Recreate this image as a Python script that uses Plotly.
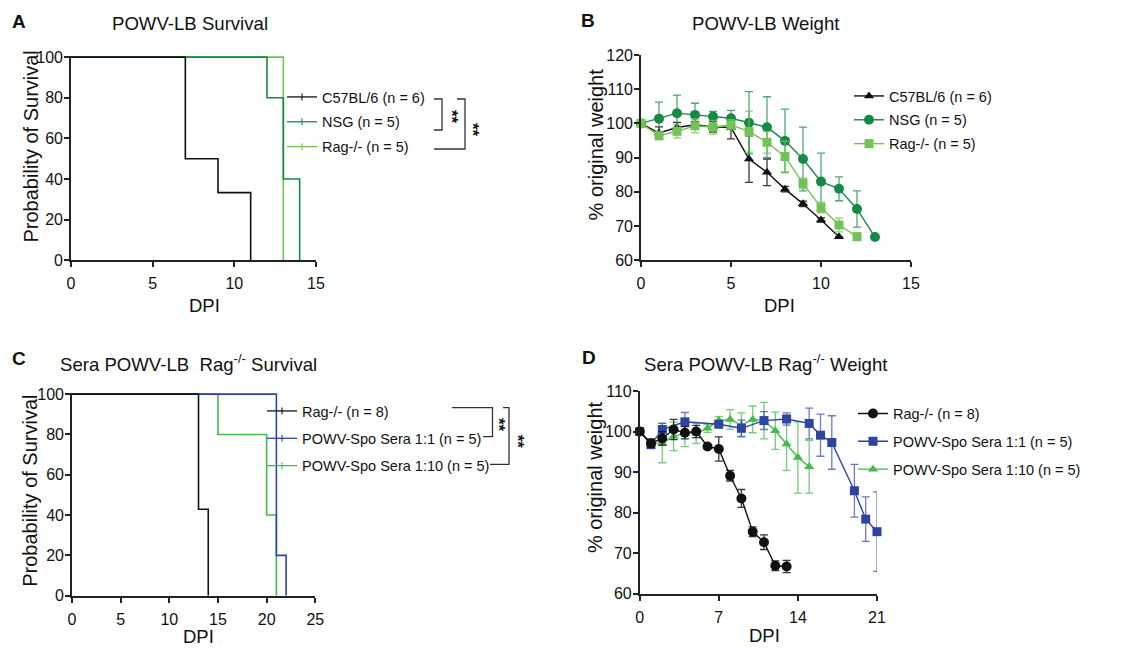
import plotly.graph_objects as go

W, H = 1141, 648
FONT = "Liberation Sans, Arial, sans-serif"

# ---------------- Data ----------------
# Panel A: POWV-LB survival (step curves)
a_c57_t = [0, 7, 9, 11]
a_c57_s = [100, 50, 33.3, 0]
a_nsg_t = [0, 12, 13, 14]
a_nsg_s = [100, 80, 40, 0]
a_rag_t = [0, 13]
a_rag_s = [100, 0]

# Panel B: POWV-LB weight
b_c57_d = [0, 1, 2, 3, 4, 5, 6, 7, 8, 9, 10, 11]
b_c57_w = [100, 97.2, 98.8, 99.6, 99.0, 98.8, 89.6, 85.7, 80.8, 76.5, 71.8, 66.9]
b_c57_e = [0, 1.8, 1.5, 1.0, 1.5, 3.3, 6.8, 3.9, 0.8, 0.8, 0.6, 0]
b_nsg_d = [0, 1, 2, 3, 4, 5, 6, 7, 8, 9, 10, 11, 12, 13]
b_nsg_w = [100, 101.4, 103.0, 102.5, 102.0, 101.5, 100.2, 98.9, 94.9, 89.6, 83.0, 80.9, 75.0, 66.8]
b_nsg_e = [0, 4.8, 5.3, 3.4, 1.5, 2.3, 9.1, 8.9, 9.3, 9.3, 8.3, 3.5, 5.3, 0]
b_rag_d = [0, 1, 2, 3, 4, 5, 6, 7, 8, 9, 10, 11, 12]
b_rag_w = [100, 96.4, 97.7, 99.3, 98.9, 99.6, 97.6, 94.5, 90.3, 82.5, 75.4, 70.3, 66.9]
b_rag_e = [0, 1.1, 2.0, 2.0, 2.0, 1.5, 6.0, 3.2, 4.5, 1.5, 1.5, 2.0, 1.0]

# Panel C: Sera POWV-LB Rag-/- survival
c_rag_t = [0, 13, 14]
c_rag_s = [100, 42.9, 0]
c_s11_t = [0, 21, 22]
c_s11_s = [100, 20, 0]
c_s110_t = [0, 15, 20, 21]
c_s110_s = [100, 80, 40, 0]

# Panel D: Sera POWV-LB Rag-/- weight
d_rag_d = [0, 1, 2, 3, 4, 5, 6, 7, 8, 9, 10, 11, 12, 13]
d_rag_w = [100, 97.1, 98.3, 100.5, 99.7, 100, 96.3, 95.7, 89.1, 83.5, 75.3, 72.7, 66.9, 66.7]
d_rag_e = [0.5, 1.0, 1.7, 2.5, 1.5, 1.5, 0.5, 3.0, 1.3, 2.2, 1.2, 1.8, 1.2, 1.5]
d_s11_d = [0, 1, 2, 4, 7, 9, 11, 13, 15, 16, 17, 19, 20, 21]
d_s11_w = [100, 96.8, 100.5, 102.4, 101.8, 100.8, 102.7, 103.1, 102.0, 99.1, 97.3, 85.4, 78.4, 75.3]
d_s11_e = [0.5, 1.0, 1.5, 2.3, 0.8, 2.0, 2.2, 1.5, 3.8, 5.2, 6.6, 6.5, 5.5, 9.8]
d_s110_d = [0, 1, 2, 3, 4, 5, 6, 7, 8, 9, 10, 11, 12, 13, 14, 15]
d_s110_w = [100, 97.1, 97.2, 98.8, 99.6, 99.6, 100.8, 102.7, 103.0, 101.6, 103.0, 102.7, 100.2, 96.9, 93.6, 91.3]
d_s110_e = [0.5, 1.0, 4.9, 3.5, 3.3, 2.5, 1.0, 1.0, 2.4, 3.0, 3.3, 4.5, 4.6, 6.5, 8.8, 6.5]

# Labels
a_names = ["C57BL/6 (n = 6)", "NSG (n = 5)", "Rag-/- (n = 5)"]
c_names = ["Rag-/- (n = 8)", "POWV-Spo Sera 1:1 (n = 5)", "POWV-Spo Sera 1:10 (n = 5)"]
a_xticks = [0, 5, 10, 15]
surv_yticks = [0, 20, 40, 60, 80, 100]
b_yticks = [60, 70, 80, 90, 100, 110, 120]
c_xticks = [0, 5, 10, 15, 20, 25]
d_xticks = [0, 7, 14, 21]
d_yticks = [60, 70, 80, 90, 100, 110]

# ---------------- Styles ----------------
BLACK = "#111111"
DKGREEN = "#158a47"
LTGREEN = "#72c257"
BLUE = "#2f43a0"
GREEN = "#45b950"
AXC = "#222222"


def px(x):
    return x / W


def py(y):
    return 1 - y / H


fig = go.Figure()


def surv(t, s, color, xa, ya):
    fig.add_trace(go.Scatter(x=t, y=s, mode="lines", line=dict(color=color, width=1.6, shape="hv"),
                             xaxis=xa, yaxis=ya, showlegend=False, hoverinfo="skip"))


def surv_leg(name, color, xa, ya, leg, rank):
    fig.add_trace(go.Scatter(x=[None], y=[None], mode="lines+markers", name=name,
                             line=dict(color=color, width=1.3),
                             marker=dict(symbol="line-ns", size=5, line=dict(color=color, width=1.1)),
                             xaxis=xa, yaxis=ya, legend=leg, legendgroup=name + leg, legendrank=rank))


def weight(d, w, e, color, ecolor, symbol, size, name, xa, ya, leg, rank):
    fig.add_trace(go.Scatter(x=d, y=w, mode="lines+markers", name=name,
                             line=dict(color=color, width=1.4),
                             marker=dict(color=color, symbol=symbol, size=size),
                             error_y=dict(type="data", array=e, color=ecolor, thickness=1.3, width=4),
                             cliponaxis=False, xaxis=xa, yaxis=ya, legend=leg,
                             legendgroup=name + leg, legendrank=rank))


# Panel A
surv(a_rag_t, a_rag_s, LTGREEN, "x", "y")
surv(a_nsg_t, a_nsg_s, DKGREEN, "x", "y")
surv(a_c57_t, a_c57_s, BLACK, "x", "y")
surv_leg(a_names[0], BLACK, "x", "y", "legend", 1)
surv_leg(a_names[1], DKGREEN, "x", "y", "legend", 2)
surv_leg(a_names[2], LTGREEN, "x", "y", "legend", 3)

# Panel B
weight(b_c57_d, b_c57_w, b_c57_e, BLACK, "rgba(20,20,20,0.85)", "triangle-up", 9, a_names[0], "x2", "y2", "legend2", 1)
weight(b_nsg_d, b_nsg_w, b_nsg_e, DKGREEN, "rgba(21,138,71,0.75)", "circle", 10, a_names[1], "x2", "y2", "legend2", 2)
weight(b_rag_d, b_rag_w, b_rag_e, LTGREEN, "rgba(114,194,87,0.8)", "square", 9, a_names[2], "x2", "y2", "legend2", 3)

# Panel C
surv(c_s110_t, c_s110_s, GREEN, "x3", "y3")
surv(c_s11_t, c_s11_s, BLUE, "x3", "y3")
surv(c_rag_t, c_rag_s, BLACK, "x3", "y3")
surv_leg(c_names[0], BLACK, "x3", "y3", "legend3", 1)
surv_leg(c_names[1], BLUE, "x3", "y3", "legend3", 2)
surv_leg(c_names[2], GREEN, "x3", "y3", "legend3", 3)

# Panel D
weight(d_s110_d, d_s110_w, d_s110_e, GREEN, "rgba(69,185,80,0.75)", "triangle-up", 9, c_names[2], "x4", "y4", "legend4", 3)
weight(d_s11_d, d_s11_w, d_s11_e, BLUE, "rgba(47,67,160,0.7)", "square", 9, c_names[1], "x4", "y4", "legend4", 2)
weight(d_rag_d, d_rag_w, d_rag_e, BLACK, "rgba(20,20,20,0.85)", "circle", 10, c_names[0], "x4", "y4", "legend4", 1)


def xax(dom, rng, ticks, anchor):
    return dict(domain=dom, range=rng, tickvals=ticks, anchor=anchor, showline=True, linecolor=AXC,
                linewidth=1.6, ticks="outside", ticklen=5, tickwidth=1.5, tickcolor=AXC,
                showgrid=False, zeroline=False, tickfont=dict(family=FONT, size=16, color="#111"),
                ticklabelstandoff=3, fixedrange=True, automargin=False)


def yax(dom, rng, ticks, anchor):
    return dict(domain=dom, range=rng, tickvals=ticks, anchor=anchor, showline=True, linecolor=AXC,
                linewidth=1.6, ticks="outside", ticklen=5, tickwidth=1.5, tickcolor=AXC,
                showgrid=False, zeroline=False, tickfont=dict(family=FONT, size=16, color="#111"),
                ticklabelstandoff=-2, fixedrange=True, automargin=False)


def leg(x, y, gap):
    return dict(x=px(x), y=py(y), xanchor="left", yanchor="top", bgcolor="rgba(0,0,0,0)",
                font=dict(family=FONT, size=14.5, color="#111"), tracegroupgap=gap,
                itemwidth=30, borderwidth=0)


fig.update_layout(
    width=W, height=H, autosize=False, margin=dict(l=0, r=0, t=0, b=0, pad=0),
    paper_bgcolor="white", plot_bgcolor="white",
    xaxis=xax([px(71), px(316)], [0, 15], a_xticks, "y"),
    yaxis=yax([py(260.3), py(55.7)], [0, 100.7], surv_yticks, "x"),
    xaxis2=xax([px(641), px(911)], [0, 15], a_xticks, "y2"),
    yaxis2=yax([py(260.3), py(55)], [60, 120], b_yticks, "x2"),
    xaxis3=xax([px(72), px(315.3)], [0, 25], c_xticks, "y3"),
    yaxis3=yax([py(595.7), py(392.7)], [0, 100.7], surv_yticks, "x3"),
    xaxis4=xax([px(639.7), px(877)], [0, 21], d_xticks, "y4"),
    yaxis4=yax([py(593.7), py(391)], [60, 110], d_yticks, "x4"),
    legend=leg(282, 81, 3),
    legend2=leg(849, 80, 2),
    legend3=leg(262, 395, 5.5),
    legend4=leg(853, 397.5, 6),
)

ann = []


def text(x, y, s, size, bold=False, angle=0, xanchor="center"):
    ann.append(dict(x=px(x), y=py(y), xref="paper", yref="paper", text=("<b>%s</b>" % s) if bold else s,
                    showarrow=False, xanchor=xanchor, yanchor="middle", textangle=angle,
                    font=dict(family=FONT, size=size, color="#111")))


# Panel letters
text(19.3, 21.7, "A", 19, bold=True)
text(588, 20.7, "B", 19, bold=True)
text(19, 358.7, "C", 19, bold=True)
text(589, 357.8, "D", 19, bold=True)
# Titles
text(189.7, 23.5, "POWV-LB Survival", 18.6)
text(765.7, 23.3, "POWV-LB Weight", 18.6)
text(188, 362.5, "Sera POWV-LB  Rag<sup>-/-</sup> Survival", 18.6)
text(766, 362.5, "Sera POWV-LB Rag<sup>-/-</sup> Weight", 18.6)
# Axis titles
text(204.7, 305, "DPI", 18.5)
text(779.5, 305, "DPI", 18.5)
text(198, 636.5, "DPI", 18.5)
text(764, 635.3, "DPI", 18.5)
text(30.5, 147, "Probability of Survival", 20, angle=-90)
text(596.4, 144, "% original weight", 20, angle=-90)
text(29.8, 491, "Probability of Survival", 20, angle=-90)
text(594.8, 477.3, "% original weight", 20, angle=-90)
# Significance stars
text(452, 117, "**", 17, bold=True, angle=90)
text(473, 130, "**", 17, bold=True, angle=90)
text(499, 425, "**", 17, bold=True, angle=90)
text(517, 441.7, "**", 17, bold=True, angle=90)

shapes = []


def path(points):
    d = "M " + " L ".join("%f,%f" % (px(a), py(b)) for a, b in points)
    shapes.append(dict(type="path", path=d, xref="paper", yref="paper",
                       line=dict(color="#333", width=1.3)))


# Brackets panel A
path([(434, 99), (442, 99), (442, 130), (434, 130)])
path([(457, 99), (465, 99), (465, 149), (434, 149)])
# Brackets panel C
path([(452, 407.7), (492.5, 407.7), (492.5, 436.7), (483, 436.7)])
path([(503, 407.7), (509, 407.7), (509, 464.3), (490, 464.3)])

fig.update_layout(annotations=ann, shapes=shapes)
fig.write_html("out.html", config={"displayModeBar": False},
               post_script="document.body.style.margin='0';document.body.style.padding='0';"
                           "document.documentElement.style.overflow='hidden';")
